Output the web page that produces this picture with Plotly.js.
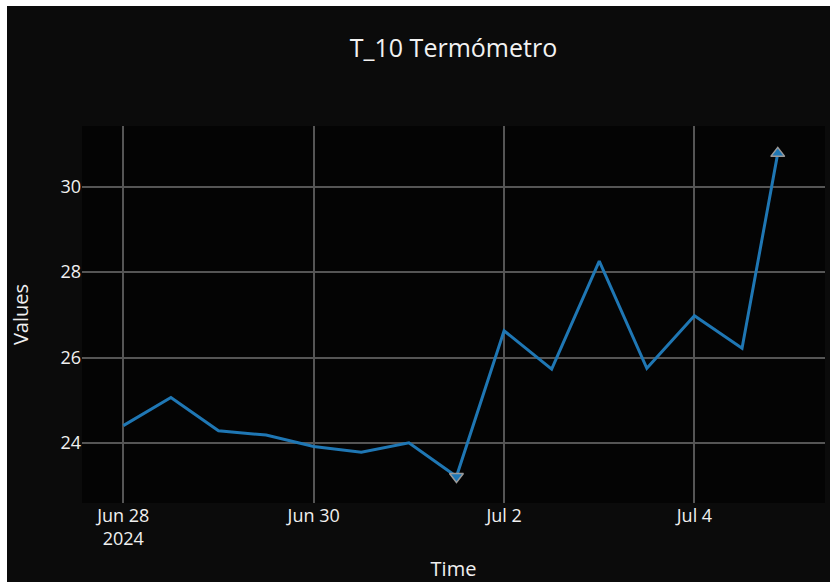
<!DOCTYPE html>
<html>
<head>
<meta charset="utf-8">
<script src="https://cdn.plot.ly/plotly-3.0.1.min.js"></script>
<style>
  html, body { margin: 0; padding: 0; background: #ffffff; width: 830px; height: 582px; overflow: hidden; }
  #chart { position: absolute; left: 7px; top: 6px; width: 823px; height: 576px; }
</style>
</head>
<body>
<div id="chart"></div>
<script>
// Data
const times = [
  "2024-06-28 00:00", "2024-06-28 12:00", "2024-06-29 00:00", "2024-06-29 12:00",
  "2024-06-30 00:00", "2024-06-30 12:00", "2024-07-01 00:00", "2024-07-01 12:00",
  "2024-07-02 00:00", "2024-07-02 12:00", "2024-07-03 00:00", "2024-07-03 12:00",
  "2024-07-04 00:00", "2024-07-04 12:00", "2024-07-04 21:00"
];
const values = [24.41, 25.07, 24.29, 24.19, 23.92, 23.79, 24.01, 23.22,
                26.63, 25.73, 28.26, 25.75, 26.98, 26.22, 30.78];

const chartTitle = "T_10 Termómetro";
const xTitle = "Time";
const yTitle = "Values";

let iMin = 0, iMax = 0;
values.forEach((v, i) => { if (v < values[iMin]) iMin = i; if (v > values[iMax]) iMax = i; });

const lineTrace = {
  x: times, y: values, type: "scatter", mode: "lines",
  line: { color: "#1f77b4", width: 3 },
  showlegend: false
};
const extremaTrace = {
  x: [times[iMin], times[iMax]],
  y: [values[iMin], values[iMax]],
  type: "scatter", mode: "markers",
  marker: {
    symbol: ["triangle-down", "triangle-up"],
    size: 12,
    color: "#1f77b4",
    line: { color: "#9a9a9a", width: 1.5 }
  },
  showlegend: false
};

const layout = {
  width: 823, height: 576,
  paper_bgcolor: "#0b0b0b",
  plot_bgcolor: "#040404",
  font: { family: "Open Sans, Verdana, Arial, sans-serif", color: "#f0f0f0", size: 18 },
  margin: { l: 75, r: 5, t: 120, b: 79 },
  title: {
    text: chartTitle,
    font: { size: 25, color: "#f2f2f2" },
    x: 0.5, xref: "paper", xanchor: "center",
    y: 1 - 42 / 576, yref: "container", yanchor: "middle"
  },
  xaxis: {
    type: "date",
    range: ["2024-06-27 13:35", "2024-07-05 08:55"],
    tick0: "2024-06-28", dtick: 2 * 86400000,
    showgrid: true, gridcolor: "#555555", gridwidth: 1.5,
    zeroline: false, showline: false,
    tickfont: { size: 18 },
    title: { text: xTitle, font: { size: 20 }, standoff: 22 }
  },
  yaxis: {
    range: [22.6, 31.42],
    dtick: 2,
    showgrid: true, gridcolor: "#555555", gridwidth: 1.5,
    zeroline: false, showline: false,
    tickfont: { size: 18 },
    title: { text: yTitle, font: { size: 20 }, standoff: 28 }
  },
  showlegend: false
};

Plotly.newPlot("chart", [lineTrace, extremaTrace], layout, { displayModeBar: false, responsive: false });
</script>
</body>
</html>
